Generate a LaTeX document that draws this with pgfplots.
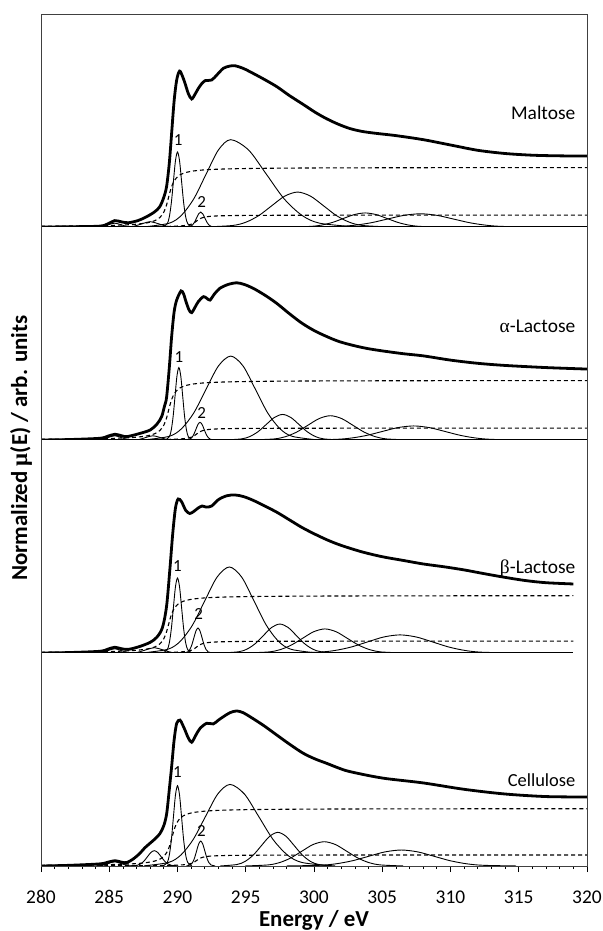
\documentclass[border=0pt]{standalone}
\usepackage{fontspec}
\setmainfont{Carlito}
\newfontfamily\grk{Liberation Serif}
\usepackage{pgfplots}
\pgfplotsset{compat=1.18}
\pgfplotsset{
  panel/.style={width=546bp,height=213bp,scale only axis,xmin=280,xmax=320,ymin=0,ymax=1,clip=true},
  spec/.style={line width=2.8bp,black,smooth},
  comp/.style={line width=0.9bp,black,smooth},
  stepl/.style={line width=1.1bp,black,dash pattern=on 4bp off 3bp,smooth},
  base/.style={line width=1.4bp,black},
}
\begin{document}
\begin{tikzpicture}
\path[use as bounding box] (-41bp,-65bp) rectangle (562bp,866bp);
% ---------------- Cellulose (bottom) ----------------
\begin{axis}[panel, at={(0,0)}, anchor=south west,
  axis x line*=bottom, hide y axis, x axis line style={-,line width=0.9bp},
  xtick={280,285,...,320}, minor x tick num=4, xtick align=outside,
  major tick length=6bp, minor tick length=3bp,
  every tick/.style={black,line width=0.8bp},
  ticklabel style={font=\fontsize{19.5}{21}\selectfont},
  xticklabel style={yshift=-15bp},
  /pgf/number format/assume math mode=true, /pgf/number format/1000 sep={}]
\addplot[comp] coordinates {(284.05,0.0002)(284.5,0.0027)(284.95,0.0121)(285.4,0.02)(285.85,0.0121)(286.3,0.0027)(286.75,0.0002)};
\addplot[comp] coordinates {(286.55,0.0002)(287.05,0.0032)(287.3,0.0097)(287.55,0.0234)(287.8,0.0437)(288.05,0.0635)(288.3,0.072)(288.55,0.0635)(288.8,0.0437)(289.05,0.0234)(289.3,0.0097)(289.55,0.0032)(290.05,0.0002)};
\addplot[comp] coordinates {(288.95,0.0008)(289.25,0.0166)(289.4,0.0510)(289.55,0.1224)(289.7,0.2287)(289.85,0.3327)(290.0,0.377)(290.15,0.3327)(290.3,0.2287)(290.45,0.1224)(290.6,0.0510)(290.75,0.0166)(291.05,0.0008)};
\addplot[comp] coordinates {(290.65,0.0003)(290.95,0.0051)(291.1,0.0158)(291.25,0.0380)(291.4,0.0710)(291.55,0.1033)(291.7,0.117)(291.85,0.1033)(292.0,0.0710)(292.15,0.0380)(292.3,0.0158)(292.45,0.0051)(292.75,0.0003)};
\addplot[comp] coordinates {(287.55,0.0008)(289.35,0.0168)(290.25,0.0517)(291.15,0.1244)(292.05,0.2323)(292.95,0.3380)(293.85,0.383)(294.9,0.3380)(295.95,0.2323)(297.0,0.1244)(298.05,0.0517)(299.1,0.0168)(301.2,0.0008)};
\addplot[comp] coordinates {(293.15,0.0003)(294.35,0.0069)(294.95,0.0214)(295.55,0.0513)(296.15,0.0958)(296.75,0.1394)(297.35,0.158)(297.95,0.1394)(298.55,0.0958)(299.15,0.0513)(299.75,0.0214)(300.35,0.0069)(301.55,0.0003)};
\addplot[comp] coordinates {(294.975,0.0003)(296.625,0.0050)(297.45,0.0154)(298.275,0.0370)(299.1,0.0691)(299.925,0.1006)(300.75,0.114)(301.575,0.1006)(302.4,0.0691)(303.225,0.0370)(304.05,0.0154)(304.875,0.0050)(306.525,0.0003)};
\addplot[comp] coordinates {(298.0,0.0002)(300.4,0.0033)(301.6,0.0102)(302.8,0.0244)(304.0,0.0455)(305.2,0.0662)(306.4,0.075)(307.6,0.0662)(308.8,0.0455)(310.0,0.0244)(311.2,0.0102)(312.4,0.0033)(314.8,0.0002)};
\addplot[stepl] coordinates {(280,0.0032)(284.25,0.0056)(286.25,0.0089)(287.25,0.0127)(288.05,0.0191)(288.55,0.0276)(288.95,0.0424)(289.25,0.0675)(289.45,0.1002)(289.6,0.135)(289.75,0.1698)(289.95,0.2025)(290.25,0.2276)(290.65,0.2424)(291.25,0.2520)(292.25,0.2587)(293.75,0.2628)(296.25,0.2655)(300.25,0.2672)(306.25,0.2682)(313.25,0.2687)(320,0.2690)};
\addplot[stepl] coordinates {(280,0.0005)(286.05,0.0011)(288.05,0.0017)(289.05,0.0024)(289.85,0.0037)(290.35,0.0053)(290.75,0.0082)(291.05,0.0130)(291.25,0.0193)(291.4,0.0260)(291.55,0.0327)(291.75,0.0390)(292.05,0.0438)(292.45,0.0467)(293.05,0.0485)(294.05,0.0498)(295.55,0.0506)(298.05,0.0511)(302.05,0.0515)(308.05,0.0517)(315.05,0.0518)(320,0.0518)};
\addplot[spec] coordinates {(280,0)(282,0.003)(284.32,0.01)(284.9,0.018)(285.42,0.025)(285.9,0.018)(286.28,0.016)(286.8,0.035)(287.25,0.06)(287.6,0.085)(287.99,0.107)(288.4,0.13)(288.72,0.153)(289.0,0.19)(289.21,0.247)(289.4,0.36)(289.57,0.466)(289.75,0.59)(289.94,0.67)(290.18,0.685)(290.36,0.665)(290.55,0.638)(290.8,0.6)(291.04,0.581)(291.35,0.615)(291.65,0.646)(292.14,0.67)(292.62,0.667)(293.0,0.685)(293.36,0.701)(293.85,0.72)(294.34,0.728)(294.8,0.72)(295.31,0.701)(296.3,0.66)(297.27,0.615)(298.25,0.57)(299.22,0.529)(300.1,0.502)(300.93,0.482)(301.8,0.46)(302.64,0.443)(305,0.413)(308,0.39)(311,0.36)(314,0.338)(317,0.326)(320,0.324)};
\node[font=\fontsize{17}{18}\selectfont] at (axis cs:290.0,0.44) {1};
\node[font=\fontsize{17}{18}\selectfont] at (axis cs:291.75,0.164) {2};
\node[anchor=east,font=\fontsize{18.5}{20}\selectfont] at (axis cs:319.4,0.404) {Cellulose};
\end{axis}
% ---------------- beta-Lactose ----------------
\begin{axis}[panel, at={(0,213bp)}, anchor=south west, hide axis]
\addplot[base] coordinates {(280,0)(319,0)};
\addplot[comp] coordinates {(284.05,0.0002)(284.5,0.0027)(284.95,0.0121)(285.4,0.02)(285.85,0.0121)(286.3,0.0027)(286.75,0.0002)};
\addplot[comp] coordinates {(286.5,0.0003)(287.1,0.0034)(287.7,0.0152)(288.3,0.025)(288.9,0.0152)(289.5,0.0034)(290.1,0.0003)};
\addplot[comp] coordinates {(288.95,0.0008)(289.25,0.0155)(289.4,0.0476)(289.55,0.1143)(289.7,0.2135)(289.85,0.3106)(290.0,0.352)(290.15,0.3106)(290.3,0.2135)(290.45,0.1143)(290.6,0.0476)(290.75,0.0155)(291.05,0.0008)};
\addplot[comp] coordinates {(290.45,0.0003)(290.75,0.0051)(290.9,0.0158)(291.05,0.0380)(291.2,0.0710)(291.35,0.1033)(291.5,0.117)(291.65,0.1033)(291.8,0.0710)(291.95,0.0380)(292.1,0.0158)(292.25,0.0051)(292.55,0.0003)};
\addplot[comp] coordinates {(287.5,0.0009)(289.3,0.0177)(290.2,0.0547)(291.1,0.1312)(292.0,0.2450)(292.9,0.3565)(293.8,0.404)(294.7,0.3565)(295.6,0.2450)(296.5,0.1312)(297.4,0.0547)(298.3,0.0177)(300.1,0.0009)};
\addplot[comp] coordinates {(293.3,0.0003)(294.5,0.0060)(295.1,0.0184)(295.7,0.0442)(296.3,0.0825)(296.9,0.1200)(297.5,0.136)(298.1,0.1200)(298.7,0.0825)(299.3,0.0442)(299.9,0.0184)(300.5,0.0060)(301.7,0.0003)};
\addplot[comp] coordinates {(295.025,0.0002)(296.675,0.0050)(297.5,0.0153)(298.325,0.0367)(299.15,0.0685)(299.975,0.0997)(300.8,0.113)(301.625,0.0997)(302.45,0.0685)(303.275,0.0367)(304.1,0.0153)(304.925,0.0050)(306.575,0.0002)};
\addplot[comp] coordinates {(297.9,0.0002)(300.3,0.0037)(301.5,0.0115)(302.7,0.0276)(303.9,0.0516)(305.1,0.0750)(306.3,0.085)(307.5,0.0750)(308.7,0.0516)(309.9,0.0276)(311.1,0.0115)(312.3,0.0037)(314.7,0.0002)};
\addplot[stepl] coordinates {(280,0.0032)(284,0.0056)(286,0.0089)(287,0.0127)(287.8,0.0191)(288.3,0.0276)(288.7,0.0424)(289.0,0.0675)(289.2,0.1002)(289.35,0.135)(289.5,0.1698)(289.7,0.2025)(290.0,0.2276)(290.4,0.2424)(291,0.2520)(292,0.2587)(293.5,0.2628)(296,0.2655)(300,0.2672)(306,0.2682)(313,0.2687)(319,0.2690)};
\addplot[stepl] coordinates {(280,0.0005)(286.05,0.0012)(288.05,0.0019)(289.05,0.0026)(289.85,0.0040)(290.35,0.0057)(290.75,0.0088)(291.05,0.0140)(291.25,0.0208)(291.4,0.0280)(291.55,0.0352)(291.75,0.0420)(292.05,0.0472)(292.45,0.0503)(293.05,0.0523)(294.05,0.0537)(295.55,0.0545)(298.05,0.0551)(302.05,0.0554)(308.05,0.0556)(315.05,0.0557)(319,0.0558)};
\addplot[spec] coordinates {(280,0)(282,0.002)(284.3,0.008)(284.9,0.018)(285.4,0.027)(285.9,0.02)(286.4,0.017)(287.2,0.03)(288.0,0.05)(288.5,0.075)(288.9,0.12)(289.2,0.22)(289.45,0.4)(289.65,0.56)(289.85,0.68)(290.05,0.723)(290.3,0.71)(290.6,0.67)(290.9,0.655)(291.2,0.665)(291.5,0.68)(291.8,0.69)(292.1,0.685)(292.5,0.69)(293.0,0.72)(293.6,0.738)(294.2,0.742)(294.8,0.735)(295.5,0.718)(296.4,0.69)(297.3,0.66)(298.2,0.625)(299.1,0.59)(300.0,0.56)(301,0.53)(302,0.505)(303.5,0.475)(305,0.452)(306.5,0.435)(308,0.418)(309.5,0.405)(311,0.39)(312.5,0.372)(314,0.355)(315.5,0.34)(317,0.33)(319,0.324)};
\node[font=\fontsize{17}{18}\selectfont] at (axis cs:290.0,0.41) {1};
\node[font=\fontsize{17}{18}\selectfont] at (axis cs:291.55,0.183) {2};
\node[anchor=east,font=\fontsize{19.5}{21}\selectfont] at (axis cs:319.4,0.394) {{\grk β}-Lactose};
\end{axis}
% ---------------- alpha-Lactose ----------------
\begin{axis}[panel, at={(0,426bp)}, anchor=south west, hide axis]
\addplot[base] coordinates {(280,0)(320,0)};
\addplot[comp] coordinates {(284.05,0.0002)(284.5,0.0027)(284.95,0.0121)(285.4,0.02)(285.85,0.0121)(286.3,0.0027)(286.75,0.0002)};
\addplot[comp] coordinates {(286.7,0.0002)(287.2,0.0027)(287.7,0.0121)(288.2,0.02)(288.7,0.0121)(289.2,0.0027)(289.7,0.0002)};
\addplot[comp] coordinates {(289.12,0.0007)(289.4,0.0149)(289.54,0.0460)(289.68,0.1104)(289.82,0.2062)(289.96,0.3001)(290.1,0.34)(290.24,0.3001)(290.38,0.2062)(290.52,0.1104)(290.66,0.0460)(290.8,0.0149)(291.08,0.0007)};
\addplot[comp] coordinates {(290.6,0.0002)(290.9,0.0036)(291.05,0.0112)(291.2,0.0270)(291.35,0.0503)(291.5,0.0732)(291.65,0.083)(291.8,0.0732)(291.95,0.0503)(292.1,0.0270)(292.25,0.0112)(292.4,0.0036)(292.7,0.0002)};
\addplot[comp] coordinates {(287.6,0.0009)(289.4,0.0173)(290.3,0.0533)(291.2,0.1279)(292.1,0.2390)(293.0,0.3477)(293.9,0.394)(294.8,0.3477)(295.7,0.2390)(296.6,0.1279)(297.5,0.0533)(298.4,0.0173)(300.2,0.0009)};
\addplot[comp] coordinates {(293.5,0.0003)(294.7,0.0053)(295.3,0.0162)(295.9,0.0390)(296.5,0.0728)(297.1,0.1059)(297.7,0.12)(298.3,0.1059)(298.9,0.0728)(299.5,0.0390)(300.1,0.0162)(300.7,0.0053)(301.9,0.0003)};
\addplot[comp] coordinates {(295.425,0.0003)(297.075,0.0050)(297.9,0.0154)(298.725,0.0370)(299.55,0.0691)(300.375,0.1006)(301.2,0.114)(302.025,0.1006)(302.85,0.0691)(303.675,0.0370)(304.5,0.0154)(305.325,0.0050)(306.975,0.0003)};
\addplot[comp] coordinates {(299.25,0.0001)(301.55,0.0029)(302.7,0.0089)(303.85,0.0214)(305.0,0.0400)(306.15,0.0582)(307.3,0.066)(308.45,0.0582)(309.6,0.0400)(310.75,0.0214)(311.9,0.0089)(313.05,0.0029)(315.35,0.0001)};
\addplot[stepl] coordinates {(280,0.0033)(284,0.0058)(286,0.0093)(287,0.0132)(287.8,0.0198)(288.3,0.0287)(288.7,0.0440)(289.0,0.0700)(289.2,0.1039)(289.35,0.1400)(289.5,0.1761)(289.7,0.2100)(290.0,0.2360)(290.4,0.2513)(291,0.2614)(292,0.2683)(293.5,0.2725)(296,0.2753)(300,0.2771)(306,0.2781)(313,0.2787)(320,0.2790)};
\addplot[stepl] coordinates {(280,0.0005)(286.05,0.0012)(288.05,0.0019)(289.05,0.0026)(289.85,0.0040)(290.35,0.0057)(290.75,0.0088)(291.05,0.0140)(291.25,0.0208)(291.4,0.0280)(291.55,0.0352)(291.75,0.0420)(292.05,0.0472)(292.45,0.0503)(293.05,0.0523)(294.05,0.0537)(295.55,0.0545)(298.05,0.0551)(302.05,0.0554)(308.05,0.0556)(315.05,0.0557)(320,0.0558)};
\addplot[spec] coordinates {(280,0)(282,0.002)(284.3,0.008)(284.9,0.018)(285.42,0.027)(285.9,0.02)(286.3,0.016)(287.2,0.03)(288.0,0.047)(288.5,0.075)(288.84,0.11)(289.05,0.16)(289.2,0.2)(289.4,0.34)(289.57,0.485)(289.75,0.6)(289.94,0.657)(290.26,0.70)(290.45,0.685)(290.62,0.65)(290.85,0.61)(291.04,0.598)(291.3,0.625)(291.53,0.65)(291.9,0.673)(292.15,0.665)(292.38,0.657)(292.7,0.685)(293.1,0.712)(293.7,0.73)(294.34,0.738)(294.9,0.73)(295.55,0.712)(296.4,0.68)(297.26,0.642)(298.1,0.598)(298.97,0.555)(299.7,0.525)(300.44,0.50)(301.9,0.461)(303.86,0.43)(306.3,0.407)(308,0.395)(310,0.375)(312,0.36)(314,0.35)(317,0.34)(320,0.333)};
\node[font=\fontsize{17}{18}\selectfont] at (axis cs:290.1,0.388) {1};
\node[font=\fontsize{17}{18}\selectfont] at (axis cs:291.77,0.128) {2};
\node[anchor=east,font=\fontsize{19.5}{21}\selectfont] at (axis cs:319.4,0.535) {{\grk α}-Lactose};
\draw[line width=1.4bp] (rel axis cs:0,0) -- ++(17bp,0);
\end{axis}
% ---------------- Maltose (top) ----------------
\begin{axis}[panel, at={(0,639bp)}, anchor=south west, hide axis]
\addplot[base] coordinates {(280,0)(320,0)};
\addplot[comp] coordinates {(284.05,0.0002)(284.5,0.0024)(284.95,0.0109)(285.4,0.018)(285.85,0.0109)(286.3,0.0024)(286.75,0.0002)};
\addplot[comp] coordinates {(286.2,0.0003)(286.8,0.0034)(287.4,0.0152)(288.0,0.025)(288.6,0.0152)(289.2,0.0034)(289.8,0.0003)};
\addplot[comp] coordinates {(288.95,0.0008)(289.25,0.0155)(289.4,0.0476)(289.55,0.1143)(289.7,0.2135)(289.85,0.3106)(290.0,0.352)(290.15,0.3106)(290.3,0.2135)(290.45,0.1143)(290.6,0.0476)(290.75,0.0155)(291.05,0.0008)};
\addplot[comp] coordinates {(290.65,0.0002)(290.95,0.0031)(291.1,0.0095)(291.25,0.0227)(291.4,0.0425)(291.55,0.0618)(291.7,0.07)(291.85,0.0618)(292.0,0.0425)(292.15,0.0227)(292.3,0.0095)(292.45,0.0031)(292.75,0.0002)};
\addplot[comp] coordinates {(287.6,0.0009)(289.4,0.0180)(290.3,0.0555)(291.2,0.1331)(292.1,0.2487)(293.0,0.3618)(293.9,0.41)(295.2,0.3618)(296.5,0.2487)(297.8,0.1331)(299.1,0.0555)(300.4,0.0180)(303.0,0.0009)};
\addplot[comp] coordinates {(292.15,0.0004)(294.05,0.0072)(295.0,0.0222)(295.95,0.0533)(296.9,0.0995)(297.85,0.1447)(298.8,0.164)(299.75,0.1447)(300.7,0.0995)(301.65,0.0533)(302.6,0.0222)(303.55,0.0072)(305.45,0.0004)};
\addplot[comp] coordinates {(298.15,0.0001)(299.75,0.0029)(300.55,0.0089)(301.35,0.0214)(302.15,0.0400)(302.95,0.0582)(303.75,0.066)(304.55,0.0582)(305.35,0.0400)(306.15,0.0214)(306.95,0.0089)(307.75,0.0029)(309.35,0.0001)};
\addplot[comp] coordinates {(299.4,0.0001)(301.8,0.0027)(303.0,0.0084)(304.2,0.0201)(305.4,0.0376)(306.6,0.0547)(307.8,0.062)(309.0,0.0547)(310.2,0.0376)(311.4,0.0201)(312.6,0.0084)(313.8,0.0027)(316.2,0.0001)};
\addplot[stepl] coordinates {(280,0.0033)(284,0.0058)(286,0.0093)(287,0.0132)(287.8,0.0198)(288.3,0.0287)(288.7,0.0440)(289.0,0.0700)(289.2,0.1039)(289.35,0.1400)(289.5,0.1761)(289.7,0.2100)(290.0,0.2360)(290.4,0.2513)(291,0.2614)(292,0.2683)(293.5,0.2725)(296,0.2753)(300,0.2771)(306,0.2781)(313,0.2787)(320,0.2790)};
\addplot[stepl] coordinates {(280,0.0005)(286.05,0.0012)(288.05,0.0019)(289.05,0.0026)(289.85,0.0040)(290.35,0.0057)(290.75,0.0088)(291.05,0.0140)(291.25,0.0208)(291.4,0.0280)(291.55,0.0352)(291.75,0.0420)(292.05,0.0472)(292.45,0.0503)(293.05,0.0523)(294.05,0.0537)(295.55,0.0545)(298.05,0.0551)(302.05,0.0554)(308.05,0.0556)(315.05,0.0557)(320,0.0558)};
\addplot[spec] coordinates {(280,0)(282,0.001)(284.3,0.004)(284.9,0.015)(285.4,0.03)(285.9,0.024)(286.4,0.02)(287.1,0.03)(287.7,0.047)(288.3,0.07)(288.7,0.095)(289.0,0.14)(289.2,0.19)(289.4,0.3)(289.57,0.44)(289.75,0.59)(289.94,0.69)(290.15,0.732)(290.35,0.71)(290.55,0.675)(290.8,0.625)(291.04,0.601)(291.3,0.625)(291.53,0.651)(291.8,0.675)(292.01,0.687)(292.5,0.69)(292.9,0.715)(293.36,0.745)(293.8,0.755)(294.21,0.757)(294.8,0.745)(295.31,0.729)(296.3,0.695)(297.27,0.659)(298.2,0.617)(299.22,0.575)(300.1,0.538)(300.93,0.508)(301.8,0.482)(302.64,0.462)(303.5,0.449)(304.5,0.44)(306,0.429)(308,0.41)(310,0.385)(312,0.36)(314,0.345)(316,0.337)(318,0.334)(320,0.333)};
\node[font=\fontsize{17}{18}\selectfont] at (axis cs:290.05,0.408) {1};
\node[font=\fontsize{17}{18}\selectfont] at (axis cs:291.77,0.119) {2};
\node[anchor=east,font=\fontsize{19.5}{21}\selectfont] at (axis cs:319.4,0.535) {Maltose};
\end{axis}
% frame and labels
\draw[line width=0.9bp, black!75] (0,0) rectangle (546bp,852bp);
\node[rotate=90,font=\fontsize{23}{25}\selectfont\bfseries] at (-20bp,418bp) {Normalized {\grk μ}(E) / arb. units};
\node[font=\fontsize{23}{25}\selectfont\bfseries] at (273bp,-54bp) {Energy / eV};
\end{tikzpicture}
\end{document}
